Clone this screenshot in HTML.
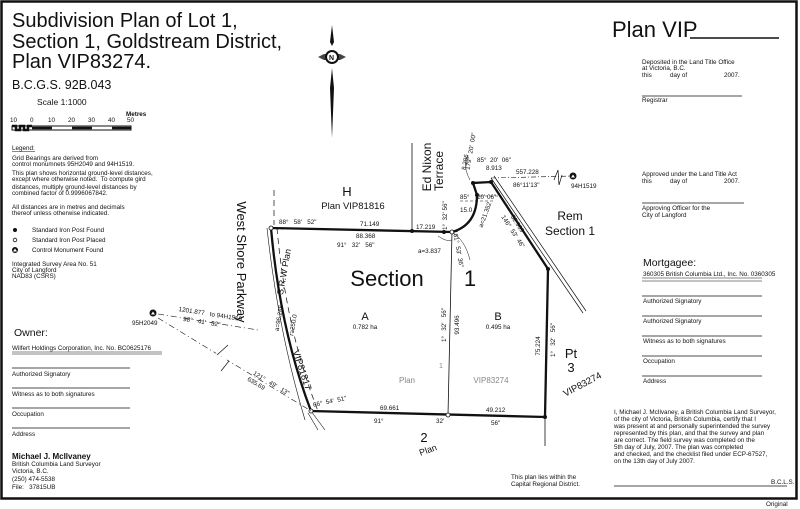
<!DOCTYPE html>
<html><head><meta charset="utf-8"><style>
html,body{margin:0;padding:0;background:#fff}
svg{display:block}
text{font-family:"Liberation Sans",sans-serif;fill:#111;white-space:pre}
.s{font-size:6.3px}
.m{font-size:7px}
</style></head><body>
<svg width="800" height="509" viewBox="0 0 800 509" xmlns="http://www.w3.org/2000/svg" xml:space="preserve">
<rect x="1.5" y="1.5" width="795" height="497" fill="none" stroke="#111" stroke-width="2.5"/>
<text x="12" y="27" font-size="20">Subdivision Plan of Lot 1,</text>
<text x="12" y="48" font-size="20">Section 1, Goldstream District,</text>
<text x="12" y="68" font-size="20">Plan VIP83274.</text>
<text x="12" y="89" font-size="12.5">B.C.G.S. 92B.043</text>
<text x="37" y="105" font-size="8.5">Scale 1:1000</text>
<text x="126" y="116" class="s" font-weight="bold">Metres</text>
<g class="s" font-size="6.5"><text x="10" y="122">10</text><text x="30" y="122">0</text><text x="48" y="122">10</text><text x="68" y="122">20</text><text x="88" y="122">30</text><text x="108" y="122">40</text><text x="127" y="122">50</text></g>
<rect x="12" y="126" width="119" height="4" fill="#fff" stroke="#111" stroke-width="1"/>
<path d="M12 126h4v4h4v-4h4v4h4v-4h4 M32 128h20 M72 128h20 M112 128h19" stroke="#111" stroke-width="2.5" fill="none"/>
<text x="12" y="150" class="s">Legend:</text><line x1="12" y1="151.5" x2="35" y2="151.5" stroke="#111" stroke-width=".6"/>
<g class="s">
<text x="12" y="160">Grid Bearings are derived from</text>
<text x="12" y="166">control monumnets 95H2049 and 94H1519.</text>
<text x="12" y="175">This plan shows horizontal ground-level distances,</text>
<text x="12" y="181">except where otherwise noted.  To compute gird</text>
<text x="12" y="189">distances, multiply ground-level distances by</text>
<text x="12" y="195">combined factor of 0.9996067842.</text>
<text x="12" y="209">All distances are in metres and decimals</text>
<text x="12" y="215">thereof unless otherwise indicated.</text>
<text x="32" y="232">Standard Iron Post Found</text>
<text x="32" y="242">Standard Iron Post Placed</text>
<text x="32" y="252">Control Monument Found</text>
<text x="12" y="266">Integrated Survey Area No. 51</text>
<text x="12" y="272">City of Langford</text>
<text x="12" y="278">NAD83 (CSRS)</text>
</g>
<circle cx="15" cy="230" r="2" fill="#111"/>
<circle cx="15" cy="240" r="1.8" fill="none" stroke="#111" stroke-width=".8"/>
<circle cx="15" cy="250" r="3" fill="#111"/><path d="M13 251.5l2-3 2 3z" fill="#fff"/>
<text x="14" y="336" font-size="10.5">Owner:</text>
<text x="12" y="350" class="s">Wilfert Holdings Corporation, Inc. No. BC0625176</text>
<path d="M12 352h150M12 354h150" stroke="#111" stroke-width=".6"/>
<g stroke="#111" stroke-width=".8"><line x1="12" y1="368" x2="130" y2="368"/><line x1="12" y1="388" x2="130" y2="388"/><line x1="12" y1="408" x2="130" y2="408"/><line x1="12" y1="428" x2="130" y2="428"/></g>
<g class="s"><text x="12" y="376">Authorized Signatory</text><text x="12" y="396">Witness as to both signatures</text><text x="12" y="416">Occupation</text><text x="12" y="436">Address</text></g>
<text x="12" y="459" font-size="8" font-weight="bold">Michael J. McIlvaney</text>
<g class="s"><text x="12" y="466">British Columbia Land Surveyor</text><text x="12" y="473">Victoria, B.C.</text><text x="12" y="481">(250) 474-5538</text><text x="12" y="489">File:   37815UB</text></g>
<path d="M332 25l2 17-2 4-2-4z" fill="#111"/>
<path d="M332 68l2 20-2 50-2-50z" fill="#111"/>
<path d="M318 57l6-3h16l6 3-6 3h-16z" fill="#444"/>
<circle cx="332" cy="57" r="7" fill="#111"/><circle cx="332" cy="57" r="5" fill="#fff"/>
<text x="329" y="60" font-size="7" font-weight="bold">N</text>
<g transform="rotate(90 241 262)"><text x="241" y="266" font-size="13" text-anchor="middle">West Shore Parkway</text></g>
<g transform="rotate(-90 427 167)"><text x="427" y="171" font-size="12" text-anchor="middle">Ed Nixon</text></g>
<g transform="rotate(-90 439 167)"><text x="439" y="171" font-size="12" text-anchor="middle" dx="-4">Terrace</text></g>
<line x1="412" y1="143" x2="412" y2="231" stroke="#111" stroke-width=".8"/>
<line x1="274" y1="190" x2="274" y2="225" stroke="#111" stroke-width=".7" stroke-dasharray="6 4"/>
<path d="M491 178L583 313M494 176L586 311" stroke="#111" stroke-width=".7"/>
<path d="M277 228Q286 330 318 411" stroke="#111" stroke-width=".7" fill="none" stroke-dasharray="6 4"/>
<path d="M267 228Q278 330 305 420" stroke="#111" stroke-width=".6" fill="none"/>
<path d="M311 411L325 430M308 413L318 430" stroke="#111" stroke-width=".6"/>
<path d="M271 228L452 232Q477 225 477 195L473 183L491 182L548 269L545 417L311 411Q280 330 271 228Z" fill="none" stroke="#111" stroke-width="2.3"/>
<line x1="452" y1="232" x2="448" y2="415" stroke="#111" stroke-width=".8"/>
<line x1="545" y1="417" x2="545" y2="446" stroke="#111" stroke-width=".8"/>
<path d="M452 232Q465 240 470 260" stroke="#111" stroke-width=".5" fill="none"/>
<path d="M438 236Q446 242 452 240" stroke="#111" stroke-width=".5" fill="none"/>
<path d="M468 155Q462 165 470 180" stroke="#111" stroke-width=".5" fill="none"/>
<path d="M276 229h48" stroke="#111" stroke-width=".5" stroke-dasharray="3 2"/>
<path d="M460 201h35M480 196h18" stroke="#111" stroke-width=".5" stroke-dasharray="3 2"/>
<g fill="#111"><circle cx="412" cy="231" r="2"/><circle cx="444" cy="232" r="2"/><circle cx="477" cy="195" r="2"/><circle cx="473" cy="183" r="2"/><circle cx="491" cy="182" r="2"/><circle cx="548" cy="269" r="2"/><circle cx="545" cy="417" r="2"/></g>
<g fill="#fff" stroke="#111" stroke-width=".8"><circle cx="271" cy="228" r="2"/><circle cx="452" cy="232" r="2"/><circle cx="448" cy="415" r="2"/><circle cx="311" cy="411" r="2"/></g>
<path d="M491 178L573 176" stroke="#111" stroke-width=".6" stroke-dasharray="5 2 1 2"/>
<path d="M554 180l4-10 1 15 3-10" stroke="#111" stroke-width=".7" fill="none"/>
<circle cx="573" cy="176" r="3.5" fill="#111"/><path d="M571 177.5l2-3 2 3z" fill="#fff"/>
<text x="571" y="188" class="s">94H1519</text>
<text x="516" y="174" class="s" font-size="7">557.228</text>
<text x="513" y="187" class="s">86°11'13"</text>
<path d="M158 314L258 330" stroke="#111" stroke-width=".6" stroke-dasharray="6 3 1 3"/>
<path d="M158 318L311 411" stroke="#111" stroke-width=".6" stroke-dasharray="6 3 1 3"/>
<path d="M216 357l10-10-3 15 5-10" stroke="#fff" stroke-width="5" fill="none"/>
<path d="M217 355l11-10M221 371l8-10" stroke="#111" stroke-width=".7"/>
<circle cx="153" cy="313" r="3.5" fill="#111"/><path d="M151 314.5l2-3 2 3z" fill="#fff"/>
<text x="132" y="325" class="s">95H2049</text>
<g transform="rotate(9 210 316)"><text x="178" y="316" class="s">1201.877   to 94H1519</text><text x="184" y="325" class="s">98°   41'   52"</text></g>
<g transform="rotate(31 265 383)"><text x="250" y="382" class="s">121°   49'   13"</text><text x="248" y="390" class="s">635.69</text></g>
<text x="347" y="196" font-size="13" text-anchor="middle">H</text>
<text x="353" y="209" font-size="9.5" text-anchor="middle">Plan VIP81816</text>
<text x="279" y="224" class="s">88°   58'   52"</text>
<text x="360" y="226" class="s" font-size="7">71.149</text>
<text x="356" y="238" class="s" font-size="7">88.368</text>
<text x="337" y="247" class="s">91°   32'   56"</text>
<text x="416" y="229" class="s" font-size="7">17.219</text>
<text x="418" y="253" class="s">a=3.837</text>
<text x="460" y="199" class="s" font-size="7">85°</text><text x="477" y="199" class="s">20' 06"</text>
<text x="477" y="162" class="s">85°  20'  06"</text>
<text x="486" y="170" class="s" font-size="7">8.913</text>
<text x="460" y="212" class="s" font-size="7">15.0</text>
<g transform="rotate(-80 470 155)"><text x="455" y="157" class="s">179°  20'  00"</text></g>
<g transform="rotate(-80 465 163)"><text x="458" y="165" class="s">8.286</text></g>
<g transform="rotate(-70 485 215)"><text x="472" y="217" class="s">a=21.352</text></g>
<g transform="rotate(-90 445 215)"><text x="430" y="217" class="s">1°  32' 56"</text></g>
<g transform="rotate(80 457 242)"><text x="445" y="244" class="s">181°  53'  36"</text></g>
<g transform="rotate(57 512 230)"><text x="495" y="232" class="s">146°  53'  46"</text><text x="500" y="224" class="s">52.989</text></g>
<text x="387" y="286" font-size="22" text-anchor="middle">Section</text>
<text x="470" y="286" font-size="22" text-anchor="middle">1</text>
<text x="570" y="220" font-size="12" text-anchor="middle">Rem</text>
<text x="570" y="235" font-size="12" text-anchor="middle">Section 1</text>
<text x="365" y="320" font-size="11" text-anchor="middle">A</text>
<text x="365" y="329" class="s" text-anchor="middle">0.782 ha</text>
<text x="498" y="320" font-size="11" text-anchor="middle">B</text>
<text x="498" y="329" class="s" text-anchor="middle">0.495 ha</text>
<g transform="rotate(-90 444 325)"><text x="444" y="327" class="s" text-anchor="middle">1°   32'   56"</text></g>
<g transform="rotate(-90 457 325)"><text x="457" y="327" class="s" text-anchor="middle" font-size="7">93.496</text></g>
<g transform="rotate(-90 538 346)"><text x="538" y="348" class="s" text-anchor="middle" font-size="7">75.224</text></g>
<g transform="rotate(-90 553 340)"><text x="553" y="342" class="s" text-anchor="middle">1°   32'   56"</text></g>
<text x="571" y="358" font-size="13" text-anchor="middle">Pt</text>
<text x="571" y="372" font-size="13" text-anchor="middle">3</text>
<g transform="rotate(-28 580 380)"><text x="580" y="388" font-size="9.5" text-anchor="middle">VIP83274</text></g>
<text x="439" y="368" class="m" style="fill:#888">1</text>
<text x="407" y="383" font-size="8" text-anchor="middle" style="fill:#888">Plan</text>
<text x="491" y="383" font-size="8" text-anchor="middle" style="fill:#888">VIP83274</text>
<g transform="rotate(-80 285 272)"><text x="285" y="274" font-size="9" text-anchor="middle">S.R.W Plan</text></g>
<g transform="rotate(-80 293 325)"><text x="293" y="327" class="s" text-anchor="middle">r=250.0</text></g>
<g transform="rotate(-80 279 318)"><text x="279" y="320" class="s" text-anchor="middle">a=96.285</text></g>
<g transform="rotate(72 302 370)"><text x="302" y="373" font-size="9.5" text-anchor="middle">VIP81817</text></g>
<g transform="rotate(-12 318 404)"><text x="313" y="406" class="s">66°  54'  51"</text></g>
<text x="380" y="410" class="s" font-size="7">69.661</text>
<text x="374" y="423" class="s">91°</text>
<text x="436" y="423" class="s">32'</text>
<text x="486" y="412" class="s" font-size="7">49.212</text>
<text x="491" y="425" class="s">56"</text>
<text x="424" y="442" font-size="13" text-anchor="middle">2</text>
<g transform="rotate(-20 428 450)"><text x="428" y="453" font-size="9" text-anchor="middle">Plan</text></g>
<text x="511" y="479" class="s">This plan lies within the</text>
<text x="511" y="486" class="s">Capital Regional District.</text>
<text x="612" y="37" font-size="22">Plan VIP</text>
<line x1="690" y1="38" x2="779" y2="38" stroke="#111" stroke-width="1.5"/>
<g class="s">
<text x="642" y="64">Deposited in the Land Title Office</text>
<text x="642" y="70">at Victoria, B.C.</text>
<text x="642" y="77">this</text><text x="670" y="77">day of</text><text x="724" y="77">2007.</text>
<text x="642" y="102">Registrar</text>
<text x="642" y="176">Approved under the Land Title Act</text>
<text x="642" y="183">this</text><text x="670" y="183">day of</text><text x="724" y="183">2007.</text>
<text x="642" y="210">Approving Officer for the</text>
<text x="642" y="217">City of Langford</text>
</g>
<g stroke="#111" stroke-width=".8"><line x1="642" y1="96" x2="742" y2="96"/><line x1="642" y1="203" x2="744" y2="203"/></g>
<text x="643" y="266" font-size="10.5">Mortgagee:</text>
<text x="643" y="276" class="s">360305 British Columbia Ltd., Inc. No. 0360305</text>
<path d="M642 278h120M642 281h120" stroke="#111" stroke-width=".6"/>
<g stroke="#111" stroke-width=".8"><line x1="642" y1="296" x2="762" y2="296"/><line x1="642" y1="316" x2="762" y2="316"/><line x1="642" y1="336" x2="762" y2="336"/><line x1="642" y1="356" x2="762" y2="356"/><line x1="642" y1="376" x2="762" y2="376"/></g>
<g class="s"><text x="643" y="303">Authorized Signatory</text><text x="643" y="323">Authorized Signatory</text><text x="643" y="343">Witness as to both signatures</text><text x="643" y="363">Occupation</text><text x="643" y="383">Address</text></g>
<g class="s">
<text x="614" y="414">I, Michael J. McIlvaney, a British Columbia Land Surveyor,</text>
<text x="614" y="421">of the city of Victoria, British Columbia, certify that I</text>
<text x="614" y="428">was present at and personally superintended the survey</text>
<text x="614" y="435">represented by this plan, and that the survey and plan</text>
<text x="614" y="442">are correct. The field survey was completed on the</text>
<text x="614" y="449">5th day of July, 2007. The plan was completed</text>
<text x="614" y="456">and checked, and the checklist filed under ECP-67527,</text>
<text x="614" y="463">on the 13th day of July 2007.</text>
<text x="771" y="484">B.C.L.S.</text>
<text x="766" y="506">Original</text>
</g>
<line x1="614" y1="486" x2="787" y2="486" stroke="#111" stroke-width=".8"/>
</svg>
</body></html>
